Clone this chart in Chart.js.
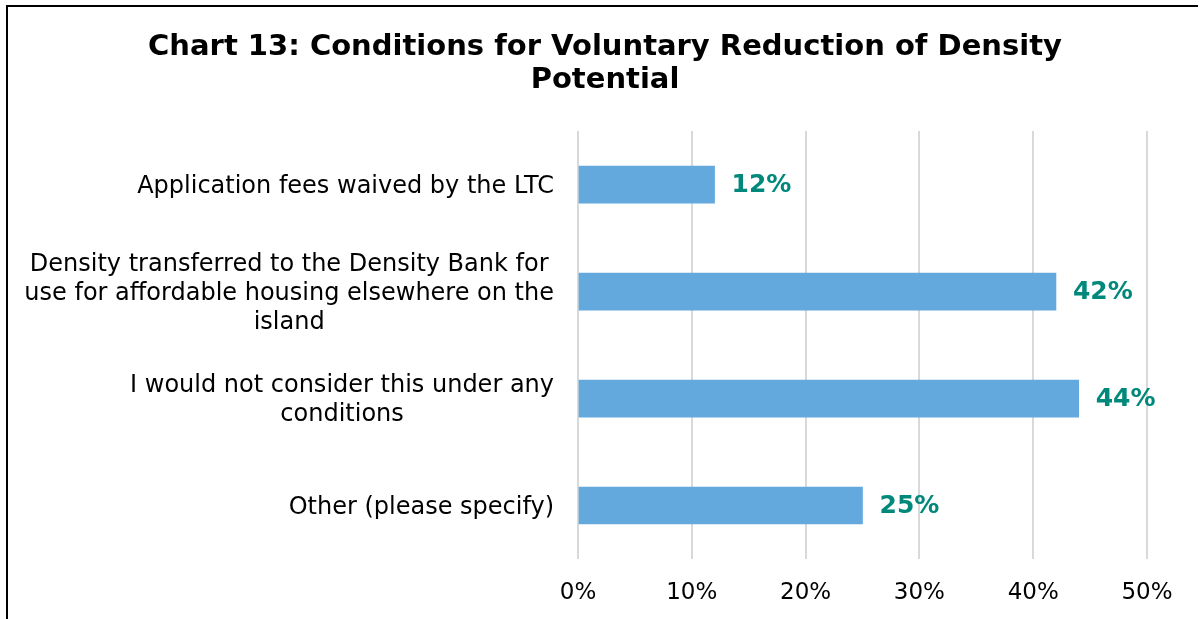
<!DOCTYPE html>
<html>
<head>
<meta charset="utf-8">
<script src="https://cdn.jsdelivr.net/npm/chart.js@4.4.1/dist/chart.umd.min.js"></script>
<style>
  html, body { margin: 0; padding: 0; background: #fff; overflow: hidden; }
  #wrap { position: relative; width: 1200px; height: 619px; }
  #frame {
    position: absolute; left: 6px; top: 5px; width: 1190px; height: 620px;
    border-left: 2px solid #000; border-top: 2px solid #000; pointer-events: none;
  }
</style>
</head>
<body>
<div id="wrap">
  <canvas id="chart" width="1200" height="619"></canvas>
  <div id="frame"></div>
</div>
<script>
// data
const titleLines = ['Chart 13: Conditions for Voluntary Reduction of Density', 'Potential'];
const categories = [
  ['Application fees waived by the LTC'],
  ['Density transferred to the Density Bank for', 'use for affordable housing elsewhere on the', 'island'],
  ['I would not consider this under any', 'conditions'],
  ['Other (please specify)']
];
const values = [12, 42, 44, 25];
const xTicks = [0, 10, 20, 30, 40, 50];

const FONT = '"DejaVu Sans", Verdana, sans-serif';

// value labels + category labels (lines centred, block right-aligned like Excel)
const labelPlugin = {
  id: 'labelPlugin',
  afterDatasetsDraw(chart) {
    const ctx = chart.ctx;
    const meta = chart.getDatasetMeta(0);
    ctx.save();
    ctx.font = 'bold 25px ' + FONT;
    ctx.fillStyle = '#00897b';
    ctx.textAlign = 'left';
    ctx.textBaseline = 'middle';
    meta.data.forEach((bar, i) => {
      ctx.fillText(values[i] + '%', bar.x + 17, bar.y + 1);
    });

    const yScale = chart.scales.y;
    const right = chart.chartArea.left - 24;
    const lh = 29;
    ctx.font = '24px ' + FONT;
    ctx.fillStyle = '#000';
    ctx.textAlign = 'center';
    categories.forEach((lines, i) => {
      const yc = yScale.getPixelForTick(i) + 2;
      const widest = Math.max(...lines.map(l => ctx.measureText(l).width));
      const xc = right - widest / 2;
      lines.forEach((line, j) => {
        ctx.fillText(line, xc, yc + (j - (lines.length - 1) / 2) * lh);
      });
    });
    ctx.restore();
  }
};

new Chart(document.getElementById('chart'), {
  type: 'bar',
  data: {
    labels: categories,
    datasets: [{
      data: values,
      backgroundColor: '#63a9dd',
      borderWidth: 0,
      barThickness: 37
    }]
  },
  options: {
    indexAxis: 'y',
    responsive: false,
    animation: false,
    layout: { padding: { left: 63, right: 53, top: 14, bottom: 0 } },
    plugins: {
      legend: { display: false },
      tooltip: { enabled: false },
      title: {
        display: true,
        text: titleLines,
        color: '#000',
        font: { family: FONT, size: 29, weight: 'bold', lineHeight: 1.14 },
        padding: { top: 17, bottom: 34 }
      }
    },
    scales: {
      x: {
        min: 0,
        max: 50,
        afterBuildTicks: s => { s.ticks = xTicks.map(v => ({ value: v })); },
        afterFit: s => { s.height = 60; },
        ticks: {
          callback: v => v + '%',
          color: '#000',
          font: { family: FONT, size: 23 },
          padding: 20,
          maxRotation: 0
        },
        grid: { color: '#d9d9d9', lineWidth: 2, drawTicks: false },
        border: { display: false }
      },
      y: {
        afterFit: s => { s.width = 515; },
        ticks: { display: false },
        grid: { display: false },
        border: { display: false }
      }
    }
  },
  plugins: [labelPlugin]
});
</script>
</body>
</html>
